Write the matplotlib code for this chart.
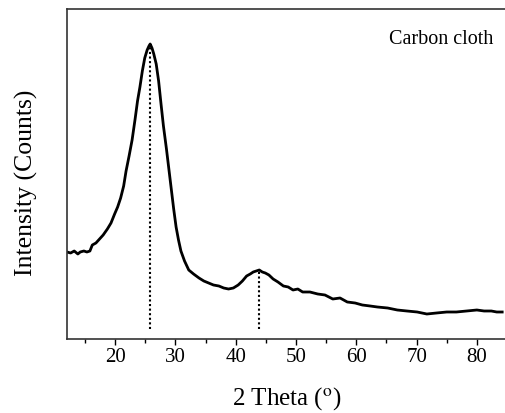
import matplotlib
matplotlib.use("Agg")
import matplotlib.pyplot as plt
import numpy as np

# 2 Theta (deg) and intensity (arbitrary units)
two_theta = [12.0, 12.6, 13.2, 13.8, 14.2, 14.8, 15.3, 15.8, 16.2, 16.8, 17.4, 18.0,
             18.7, 19.3, 19.9, 20.4, 20.9, 21.4, 21.8, 22.3, 22.8, 23.3, 23.7, 24.1,
             24.5, 24.9, 25.3, 25.6, 25.8, 26.1, 26.4, 26.8, 27.2, 27.6, 28.0, 28.5,
             28.9, 29.3, 29.7, 30.1, 30.5, 30.9, 31.5, 32.2, 33.0, 33.9, 34.7, 35.5,
             36.3, 37.2, 38.0, 38.8, 39.6, 40.4, 41.1, 41.8, 42.4, 42.9, 43.4, 43.9,
             44.4, 44.9, 45.5, 46.2, 47.0, 47.9, 48.7, 49.5, 50.3, 51.1, 52.3, 53.6,
             54.8, 56.1, 57.3, 58.5, 59.8, 61.0, 62.3, 63.5, 65.2, 66.8, 68.4, 70.1,
             71.7, 73.3, 75.0, 76.6, 78.3, 80.0, 81.2, 82.4, 83.3, 84.2]
intensity = [77, 76, 78, 75, 77, 78, 77, 78, 84, 86, 90, 94,
             100, 106, 115, 122, 131, 143, 158, 173, 189, 210, 228, 242,
             258, 271, 279, 283, 285, 281, 275, 265, 248, 225, 203, 180,
             160, 140, 120, 102, 89, 78, 68, 59, 55, 51, 48, 46,
             44, 43, 41, 40, 41, 44, 48, 53, 55, 57, 58, 59,
             57, 56, 54, 50, 47, 43, 42, 39, 40, 37, 37, 35,
             34, 30, 31, 27, 26, 24, 23, 22, 21, 19, 18, 17,
             15, 16, 17, 17, 18, 19, 18, 18, 17, 17]

peak_pos = [25.8, 43.8]
peak_val = [285, 59]

x_ticks = [20, 30, 40, 50, 60, 70, 80]
x_minor = [15, 25, 35, 45, 55, 65, 75, 85]

plt.rcParams['font.family'] = ['Liberation Serif', 'DejaVu Serif']
plt.rcParams['mathtext.fontset'] = 'stix'

fig = plt.figure(figsize=(5.06, 4.14), dpi=100)
ax = fig.add_axes([67/506, 74/414, 440/506, 330/414])

ax.plot(two_theta, intensity, color='black', lw=2.0)
for p, v in zip(peak_pos, peak_val):
    ax.plot([p, p], [0, v], color='black', lw=1.5, ls=(0, (1, 1.2)))

ax.set_xlim(12, 84.2)
ax.set_ylim(-10, 320)
ax.set_xticks(x_ticks)
ax.set_xticks(x_minor, minor=True)
ax.set_yticks([])
ax.tick_params(axis='x', which='major', direction='out', length=4, width=1, labelsize=15, pad=2)
ax.tick_params(axis='x', which='minor', direction='out', length=3, width=1)
for s in ax.spines.values():
    s.set_color('#333333')
    s.set_linewidth(1.2)
ax.spines['right'].set_visible(False)

ax.set_xlabel('2 Theta ($^{\\mathrm{o}}$)', fontsize=18, labelpad=13)
ax.set_ylabel('Intensity (Counts)', fontsize=18.5)
ax.yaxis.set_label_coords(-0.067, 0.475)
ax.text(0.97, 0.91, 'Carbon cloth', transform=ax.transAxes, ha='right', va='center', fontsize=14.5)

fig.savefig('out.png', dpi=100)
